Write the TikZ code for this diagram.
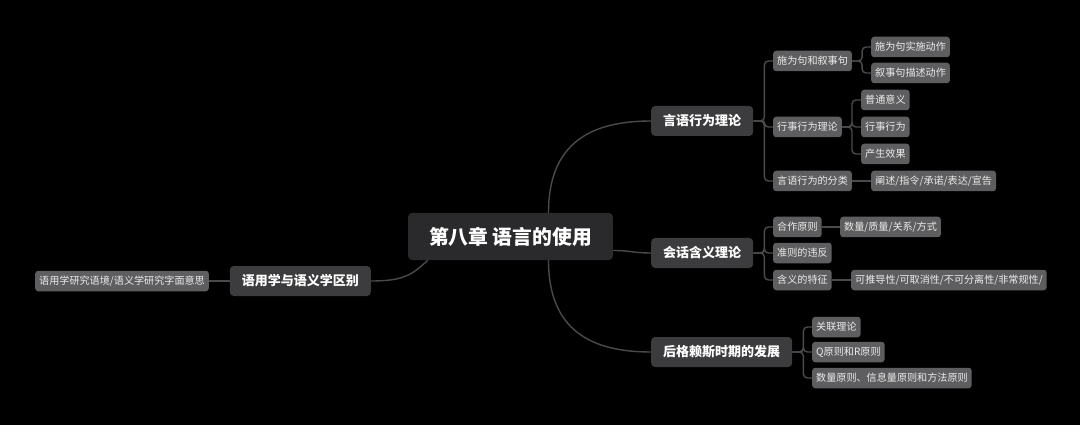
\documentclass[tikz,border=0pt]{standalone}
\usepackage{fontspec}
\setmainfont{Noto Sans CJK SC}
\usepackage{tikz}
\usetikzlibrary{positioning}
\definecolor{bgc}{HTML}{000000}
\definecolor{rootc}{HTML}{2A2A2C}
\definecolor{topicc}{HTML}{3C3C3E}
\definecolor{leafc}{HTML}{5E5E60}
\definecolor{linkc}{HTML}{4A4A4C}
\tikzset{
  root/.style={fill=rootc,text=white,rounded corners=4pt,inner xsep=21pt,minimum height=47pt,font=\fontsize{19.8}{22}\selectfont\bfseries},
  topic/.style={fill=topicc,text=white,rounded corners=4pt,inner xsep=12pt,minimum height=30pt,font=\fontsize{13}{15}\selectfont\bfseries},
  leaf/.style={fill=leafc,text=white!92!black,rounded corners=3pt,inner xsep=4pt,minimum height=20.5pt,font=\fontsize{10.1}{12}\selectfont},
  link/.style={draw=linkc,line width=1.4pt},
  elbow/.style={link,rounded corners=4pt}
}
\begin{document}
\begin{tikzpicture}[x=1pt,y=-1pt]
\fill[bgc] (0,0) rectangle (1080,425);
\useasboundingbox (0,0) rectangle (1080,425);
% centre
\node[root] (root) at (510.5,236.5) {第八章 语言的使用};
% main branches
\node[topic,anchor=west] (sa) at (651,121) {言语行为理论};
\node[topic,anchor=west] (hh) at (651,253) {会话含义理论};
\node[topic,anchor=west] (hg) at (651,352) {后格赖斯时期的发展};
\node[topic,anchor=east] (yq) at (371,281) {语用学与语义学区别};
\draw[link] ([xshift=38pt]root.north) .. controls +(0,-70) and +(-60,0) .. (sa.west);
\draw[link] ([yshift=-14pt]root.east) .. controls +(18,0) and +(-18,0) .. (hh.west);
\draw[link] ([xshift=38pt]root.south) .. controls +(0,70) and +(-60,0) .. (hg.west);
\draw[link] ([xshift=20pt]root.south west) .. controls +(-16,15) and +(32,0) .. (yq.east);
% 言语行为理论
\node[leaf,anchor=west] (sa1) at (773,61) {施为句和叙事句};
\node[leaf,anchor=west] (sa11) at (871,47) {施为句实施动作};
\node[leaf,anchor=west] (sa12) at (871,73) {叙事句描述动作};
\node[leaf,anchor=west] (sa2) at (773,127) {行事行为理论};
\node[leaf,anchor=west] (sa21) at (861,100) {普通意义};
\node[leaf,anchor=west] (sa22) at (861,127) {行事行为};
\node[leaf,anchor=west] (sa23) at (861,154) {产生效果};
\node[leaf,anchor=west] (sa3) at (773,181) {言语行为的分类};
\node[leaf,anchor=west] (sa31) at (871,181) {阐述/指令/承诺/表达/宣告};
\foreach \c in {sa1,sa2,sa3} \draw[elbow] (sa.east) -- ++(11,0) |- (\c.west);
\foreach \c in {sa11,sa12} \draw[elbow] (sa1.east) -- ++(10,0) |- (\c.west);
\foreach \c in {sa21,sa22,sa23} \draw[elbow] (sa2.east) -- ++(10,0) |- (\c.west);
\draw[link] (sa3) -- (sa31);
% 会话含义理论
\node[leaf,anchor=west] (hh1) at (773,227) {合作原则};
\node[leaf,anchor=west] (hh11) at (840,227) {数量/质量/关系/方式};
\node[leaf,anchor=west] (hh2) at (773,253) {准则的违反};
\node[leaf,anchor=west] (hh3) at (773,280) {含义的特征};
\node[leaf,anchor=west] (hh31) at (851,280) {可推导性/可取消性/不可分离性/非常规性/};
\foreach \c in {hh1,hh2,hh3} \draw[elbow] (hh.east) -- ++(11,0) |- (\c.west);
\draw[link] (hh1) -- (hh11);
\draw[link] (hh3) -- (hh31);
% 后格赖斯时期的发展
\node[leaf,anchor=west] (hg1) at (812,327) {关联理论};
\node[leaf,anchor=west] (hg2) at (812,352) {Q原则和R原则};
\node[leaf,anchor=west] (hg3) at (812,378) {数量原则、信息量原则和方法原则};
\foreach \c in {hg1,hg2,hg3} \draw[elbow] (hg.east) -- ++(11,0) |- (\c.west);
% 语用学与语义学区别
\node[leaf,anchor=east] (yq1) at (209,281) {语用学研究语境/语义学研究字面意思};
\draw[link] (yq) -- (yq1);
\end{tikzpicture}
\end{document}
